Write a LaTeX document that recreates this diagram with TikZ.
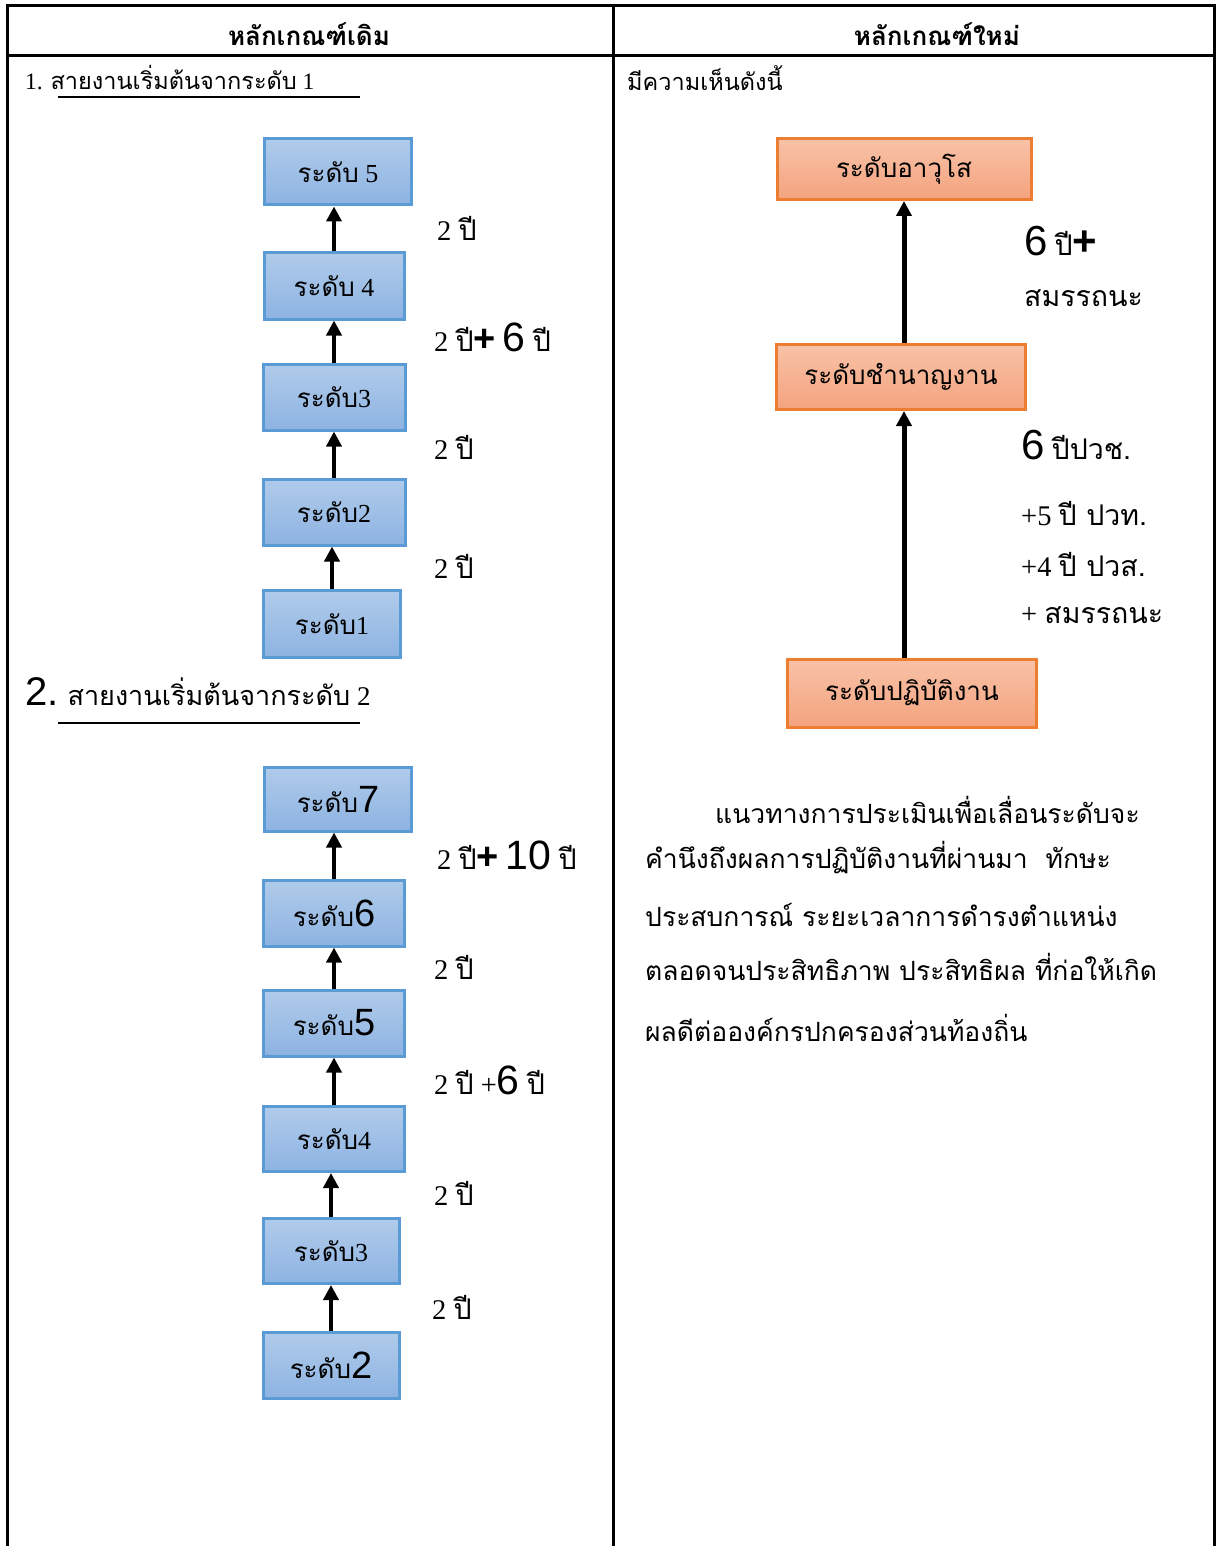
\documentclass[tikz,border=0pt]{standalone}
\usepackage{fontspec}
\setmainfont{Liberation Serif}
\newfontfamily\tf[Script=Thai]{Loma}
\newfontfamily\af{Liberation Sans}
\usetikzlibrary{arrows.meta}
\definecolor{bluebd}{HTML}{5B9BD5}
\definecolor{bluetop}{HTML}{B0CBEA}
\definecolor{bluebot}{HTML}{8DB3E2}
\definecolor{orbd}{HTML}{ED7D31}
\definecolor{ortop}{HTML}{F8C2A7}
\definecolor{orbot}{HTML}{F4A37E}
\newcommand\thx[1]{{\tf #1}}
\newcommand\fs[1]{\fontsize{#1}{#1}\selectfont}
\newcommand\bigd[1]{{\af\fs{38}#1}}
\newcommand\biglab[1]{{\af\fs{41}#1}}
\begin{document}
\begin{tikzpicture}[x=1pt,y=-1pt,
  bluebox/.style={draw=bluebd, line width=3pt, top color=bluetop, bottom color=bluebot, inner sep=0pt, font=\fs{26}},
  orbox/.style={draw=orbd, line width=3pt, top color=ortop, bottom color=orbot, inner sep=0pt, font=\fs{26}},
  uparrow/.style={line width=4pt, -{Triangle[width=15pt,length=15pt]}},
  lbl/.style={anchor=west, inner sep=0pt, font=\fs{28.5}},
  tbl/.style={line width=3pt, line cap=rect}
]
\useasboundingbox (0,0) rectangle (1216,1546);
% table
\coordinate (tl) at (7,6);
\coordinate (tm) at (613,6);
\coordinate (tr) at (1214,6);
\coordinate (bl) at (7,1546);
\coordinate (bm) at (613,1546);
\coordinate (br) at (1214,1546);
\coordinate (hl) at (7,56);
\coordinate (hr) at (1214,56);
\draw[tbl] (tl) -- (tr);
\draw[tbl] (hl) -- (hr);
\draw[tbl] (tl) -- (bl);
\draw[tbl] (tm) -- (bm);
\draw[tbl] (tr) -- (br);
\node[inner sep=0pt, font=\fs{26}\bfseries] (h1) at (309,34) {\thx{หลักเกณฑ์เดิม}};
\node[inner sep=0pt, font=\fs{26}\bfseries] (h2) at (937,34) {\thx{หลักเกณฑ์ใหม่}};

% section 1
\node[lbl, font=\fs{23.5}] (s1) at (25,78) {1. \thx{สายงานเริ่มต้นจากระดับ} 1};
\coordinate (u1a) at (58,97);
\coordinate (u1b) at (360,97);
\draw[line width=2.5pt] (u1a) -- (u1b);

\node[bluebox, minimum width=147, minimum height=66] (b5) at (338,172) {\thx{ระดับ} 5};
\node[bluebox, minimum width=140, minimum height=66] (b4) at (334,286) {\thx{ระดับ} 4};
\node[bluebox, minimum width=142, minimum height=66] (b3) at (334,397) {\thx{ระดับ}3};
\node[bluebox, minimum width=142, minimum height=66] (b2) at (334,512) {\thx{ระดับ}2};
\node[bluebox, minimum width=137, minimum height=67] (b1) at (332,624) {\thx{ระดับ}1};
\draw[uparrow] (b4.north) -- (b4.north |- b5.south);
\draw[uparrow] (b3.north) -- (b3.north |- b4.south);
\draw[uparrow] (b2.north) -- (b2.north |- b3.south);
\draw[uparrow] (b1.north) -- (b1.north |- b2.south);

\node[lbl] (l1) at (437,228) {2 \thx{ปี}};
\node[lbl] (l2) at (434,337) {2 \thx{ปี}{\af\bfseries\fs{38}+} \biglab{6} \thx{ปี}};
\node[lbl] (l3) at (434,447) {2 \thx{ปี}};
\node[lbl] (l4) at (434,566) {2 \thx{ปี}};

% section 2
\node[lbl, font=\fs{27}] (s2) at (25,692) {{\af\fs{40}2.} \thx{สายงานเริ่มต้นจากระดับ} 2};
\coordinate (u2a) at (58,723);
\coordinate (u2b) at (360,723);
\draw[line width=2.5pt] (u2a) -- (u2b);

\node[bluebox, minimum width=147, minimum height=64] (c7) at (338,799) {\thx{ระดับ}\bigd{7}};
\node[bluebox, minimum width=141, minimum height=66] (c6) at (334,913) {\thx{ระดับ}\bigd{6}};
\node[bluebox, minimum width=141, minimum height=66] (c5) at (334,1023) {\thx{ระดับ}\bigd{5}};
\node[bluebox, minimum width=141, minimum height=65] (c4) at (334,1139) {\thx{ระดับ}4};
\node[bluebox, minimum width=136, minimum height=65] (c3) at (331,1251) {\thx{ระดับ}3};
\node[bluebox, minimum width=136, minimum height=66] (c2) at (331,1365) {\thx{ระดับ}\bigd{2}};
\draw[uparrow] (c6.north) -- (c6.north |- c7.south);
\draw[uparrow] (c5.north) -- (c5.north |- c6.south);
\draw[uparrow] (c4.north) -- (c4.north |- c5.south);
\draw[uparrow] (c3.north) -- (c3.north |- c4.south);
\draw[uparrow] (c2.north) -- (c2.north |- c3.south);

\node[lbl] (m1) at (437,855) {2 \thx{ปี}{\af\bfseries\fs{38}+} \biglab{10} \thx{ปี}};
\node[lbl] (m2) at (434,967) {2 \thx{ปี}};
\node[lbl] (m3) at (434,1080) {2 \thx{ปี} +\biglab{6} \thx{ปี}};
\node[lbl] (m4) at (434,1193) {2 \thx{ปี}};
\node[lbl] (m5) at (432,1307) {2 \thx{ปี}};

% right column
\node[lbl, font=\fs{23.5}] (r0) at (627,78) {\thx{มีความเห็นดังนี้}};
\node[orbox, minimum width=254, minimum height=61] (o3) at (904,169) {\thx{ระดับอาวุโส}};
\node[orbox, minimum width=249, minimum height=65] (o2) at (901,377) {\thx{ระดับชำนาญงาน}};
\node[orbox, minimum width=249, minimum height=68] (o1) at (912,693) {\thx{ระดับปฏิบัติงาน}};
\draw[uparrow, line width=5pt] (o2.north -| o3.south) -- (o3.south);
\draw[uparrow, line width=5pt] (o1.north -| o3.south) -- (o2.south -| o3.south);

\node[lbl] (q1) at (1024,241) {{\af\fs{42}6} \thx{ปี}{\af\bfseries\fs{42}+}};
\node[lbl] (q2) at (1024,298) {\thx{สมรรถนะ}};
\node[lbl] (q3) at (1021,445) {{\af\fs{42}6} \thx{ปีปวช.}};
\node[lbl] (q4) at (1021,514) {+5 \thx{ปี ปวท.}};
\node[lbl] (q5) at (1021,564) {+4 \thx{ปี ปวส.}};
\node[lbl] (q6) at (1021,615) {+ \thx{สมรรถนะ}};

\begin{scope}[every node/.style={lbl, font=\fs{26.5}}]
\node (p1) at (715,810) {\thx{แนวทางการประเมินเพื่อเลื่อนระดับจะ}};
\node (p2) at (645,858) {\thx{คำนึงถึงผลการปฏิบัติงานที่ผ่านมา\ \ ทักษะ}};
\node (p3) at (645,915) {\thx{ประสบการณ์ ระยะเวลาการดำรงตำแหน่ง}};
\node (p4) at (645,967) {\thx{ตลอดจนประสิทธิภาพ ประสิทธิผล ที่ก่อให้เกิด}};
\node (p5) at (645,1028) {\thx{ผลดีต่อองค์กรปกครองส่วนท้องถิ่น}};
\end{scope}
\end{tikzpicture}
\end{document}
